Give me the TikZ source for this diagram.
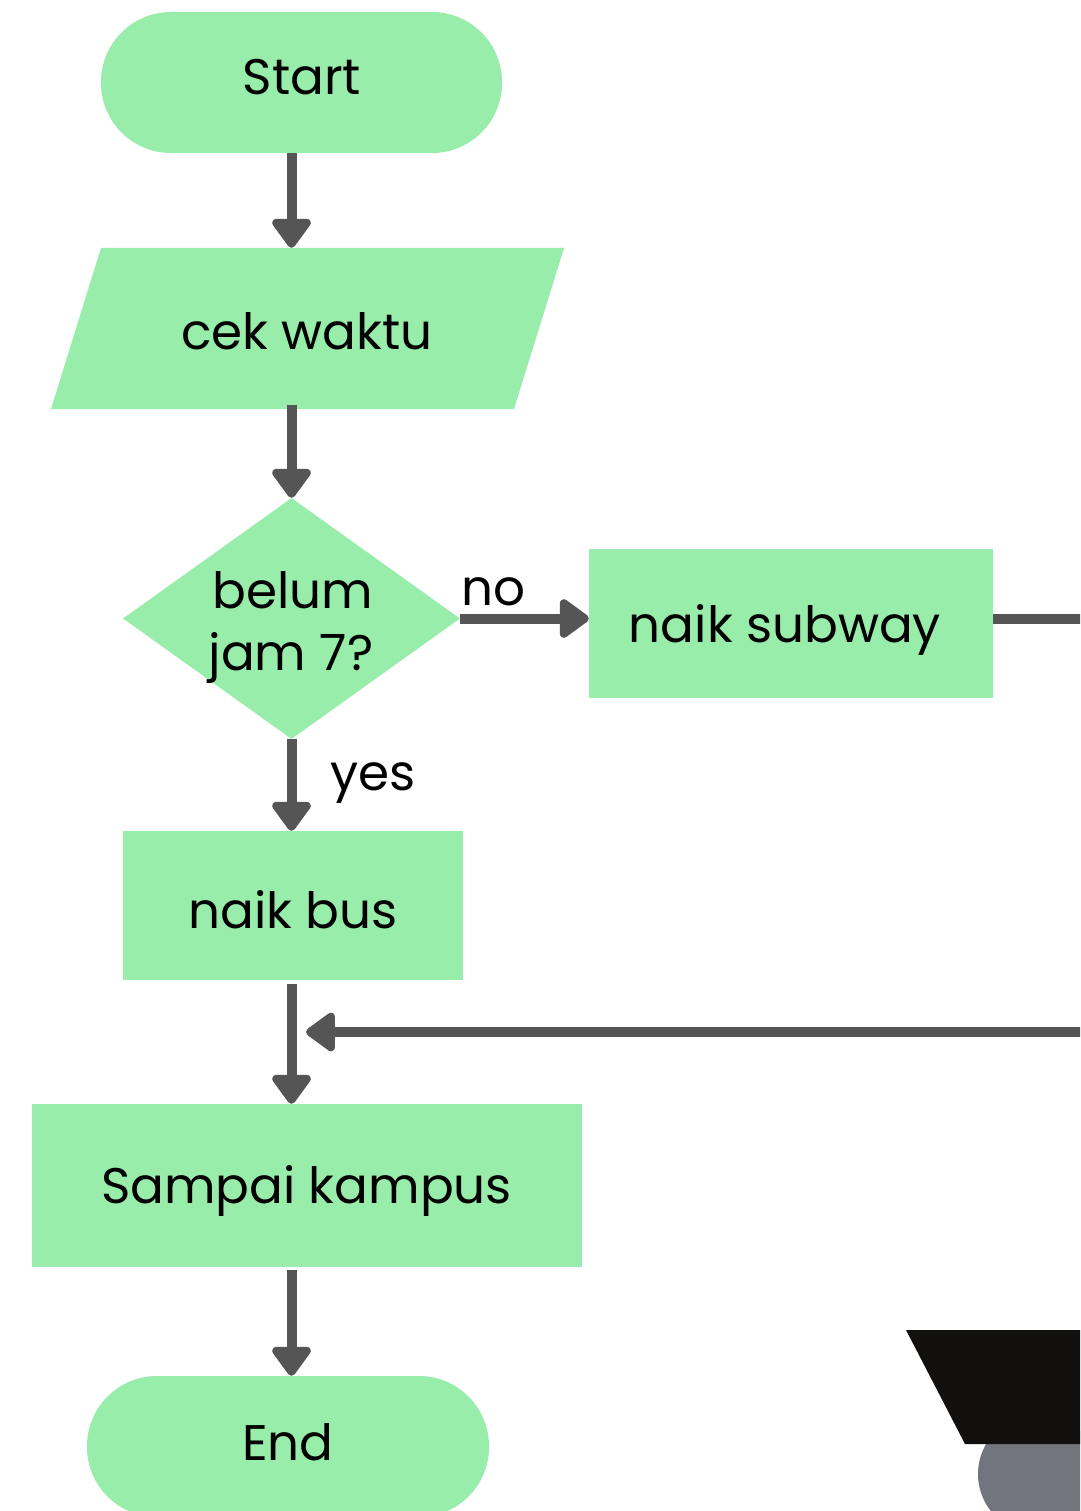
\documentclass[tikz,border=0pt]{standalone}
\usepackage{fontspec}
\setmainfont{Poppins}
\usetikzlibrary{arrows.meta,shapes.geometric}
\definecolor{boxgreen}{RGB}{152,237,170}
\definecolor{linegray}{RGB}{85,85,85}
\definecolor{inkblack}{RGB}{17,16,14}
\definecolor{slate}{RGB}{114,117,125}
\tikzset{
  lbl/.style={font=\fontsize{50}{56}\selectfont, text=black, inner sep=0pt, anchor=base},
  terminal/.style={fill=boxgreen, rounded corners=70pt, inner sep=0pt,
    minimum width=401pt, minimum height=141pt},
  process/.style={fill=boxgreen, inner sep=0pt},
  flow/.style={draw=linegray, line width=10pt,
    -{Triangle[width=44pt,length=32pt,round]}},
  plain/.style={draw=linegray, line width=10pt}
}
\begin{document}
\begin{tikzpicture}[x=1pt,y=-1pt]
\useasboundingbox (0,0) rectangle (1080,1511);
\clip (0,0) rectangle (1080,1511);
\fill[white] (0,0) rectangle (1080,1511);

% decorative shapes in the lower right corner
\fill[slate] (1038,1474) circle (60);
\fill[inkblack] (906,1330) -- (1080,1330) -- (1080,1444) -- (965,1444) -- cycle;

% terminals
\node[terminal] (start) at (301.5,82.5) {};
\node[lbl] (starttxt) at (302,95) {Start};
\node[terminal, minimum width=402pt] (end) at (288,1446.5) {};
\node[lbl] (endtxt) at (288,1460) {End};

% input: parallelogram
\fill[boxgreen] (101,248) -- (564,248) -- (514,409) -- (51,409) -- cycle;
\node[process, minimum width=463pt, minimum height=161pt, fill=none] (cek) at (307.5,328.5) {};
\node[lbl] (cektxt) at (307,349) {cek waktu};

% decision
\node[diamond, fill=boxgreen, inner sep=0pt, minimum width=337pt, minimum height=241pt] (dia) at (291.5,618.5) {};
\node[lbl] (diatxt1) at (293,608) {belum};
\node[lbl] (diatxt2) at (291,670) {jam 7?};

% processes
\node[process, minimum width=404pt, minimum height=149pt] (subway) at (791,623.5) {};
\node[lbl] (subwaytxt) at (785,642) {naik subway};
\node[process, minimum width=340pt, minimum height=149pt] (bus) at (293,905.5) {};
\node[lbl] (bustxt) at (293,928) {naik bus};
\node[process, minimum width=550pt, minimum height=163pt] (kampus) at (307,1185.5) {};
\node[lbl] (kampustxt) at (306.5,1203) {Sampai kampus};

% free ends of the return path
\coordinate (edgeA) at (1085,619);
\coordinate (edgeB) at (1085,1032);
\coordinate (join) at (306,1032);

% connectors
\draw[flow] (start.south -| dia.north) -- (cek.north -| dia.north);
\draw[flow] (dia.north |- 0,405) -- (dia.north);
\draw[flow] (dia.south) -- (bus.north -| dia.south);
\draw[flow] (dia.east) -- (subway.west |- dia.east);
\draw[plain] (subway.east |- edgeA) -- (edgeA);
\draw[flow] (edgeB) -- (join);
\draw[flow] (bus.south -| dia.south) ++(0,4) -- (kampus.north -| dia.south);
\draw[flow] (kampus.south -| dia.south) ++(0,3) -- (end.north -| dia.south);

% branch labels
\node[lbl, anchor=base west] (nolbl) at (461,605) {no};
\node[lbl, anchor=base west] (yeslbl) at (330,790) {yes};
\end{tikzpicture}
\end{document}
